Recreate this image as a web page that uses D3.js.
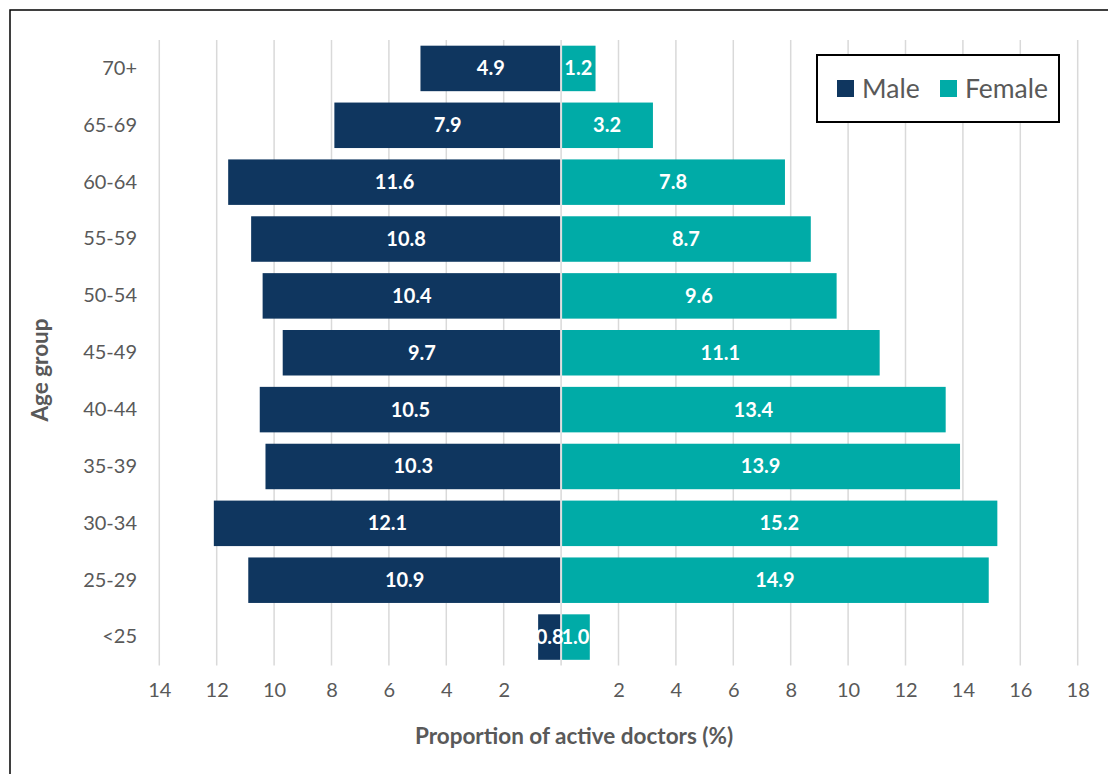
<!DOCTYPE html>
<html>
<head>
<meta charset="utf-8">
<script src="https://cdn.jsdelivr.net/npm/d3@7"></script>
<style>
  body { margin: 0; background: #fff; }
  text { font-family: Lato, "Open Sans", sans-serif; }
</style>
</head>
<body>
<svg id="chart" width="1108" height="774"></svg>
<script>
// age groups, top to bottom
var ageGroups = ['70+', '65-69', '60-64', '55-59', '50-54', '45-49', '40-44', '35-39', '30-34', '25-29', '<25'];
var maleValues = [4.9, 7.9, 11.6, 10.8, 10.4, 9.7, 10.5, 10.3, 12.1, 10.9, 0.8];
var femaleValues = [1.2, 3.2, 7.8, 8.7, 9.6, 11.1, 13.4, 13.9, 15.2, 14.9, 1.0];
var tickValues = [-14, -12, -10, -8, -6, -4, -2, 0, 2, 4, 6, 8, 10, 12, 14, 16, 18];
var seriesNames = ['Male', 'Female'];

var maleColor = '#0f365f';
var femaleColor = '#00aba7';
var textGrey = '#595959';

var svg = d3.select('#chart');

// outer frame (runs off the right and bottom)
svg.append('rect')
  .attr('x', 10).attr('y', 10)
  .attr('width', 1120).attr('height', 800)
  .attr('fill', 'none').attr('stroke', '#000').attr('stroke-width', 1.5);

var x = d3.scaleLinear().domain([-14, 18]).range([159.3, 1077.7]);
var y = d3.scaleBand().domain(ageGroups).range([40, 665.5]).paddingInner(0.2).paddingOuter(0.1);

// vertical gridlines
svg.append('g').selectAll('line')
  .data(tickValues)
  .enter().append('line')
  .attr('x1', function(d){ return x(d); })
  .attr('x2', function(d){ return x(d); })
  .attr('y1', 40).attr('y2', 665.5)
  .attr('stroke', '#d9d9d9').attr('stroke-width', 1.5);

// bars
var rows = ageGroups.map(function(g, i) {
  return {group: g, male: maleValues[i], female: femaleValues[i]};
});

var bars = svg.append('g');
bars.selectAll('rect.male')
  .data(rows)
  .enter().append('rect')
  .attr('class', 'male')
  .attr('x', function(d){ return x(-d.male); })
  .attr('width', function(d){ return x(0) - 1 - x(-d.male); })
  .attr('y', function(d){ return y(d.group); })
  .attr('height', y.bandwidth())
  .attr('fill', maleColor);

bars.selectAll('rect.female')
  .data(rows)
  .enter().append('rect')
  .attr('class', 'female')
  .attr('x', x(0) + 1)
  .attr('width', function(d){ return x(d.female) - x(0) - 1; })
  .attr('y', function(d){ return y(d.group); })
  .attr('height', y.bandwidth())
  .attr('fill', femaleColor);

// value labels
bars.selectAll('text.male')
  .data(rows)
  .enter().append('text')
  .attr('x', function(d){ return (x(-d.male) + x(0)) / 2; })
  .attr('y', function(d){ return y(d.group) + y.bandwidth() / 2; })
  .attr('dy', '.35em')
  .style('text-anchor', 'middle')
  .style('font-weight', 'bold')
  .style('font-size', '20px')
  .attr('fill', '#fff')
  .text(function(d){ return d.male.toFixed(1); });

bars.selectAll('text.female')
  .data(rows)
  .enter().append('text')
  .attr('x', function(d){ return (x(d.female) + x(0)) / 2; })
  .attr('y', function(d){ return y(d.group) + y.bandwidth() / 2; })
  .attr('dy', '.35em')
  .style('text-anchor', 'middle')
  .style('font-weight', 'bold')
  .style('font-size', '20px')
  .attr('fill', '#fff')
  .text(function(d){ return d.female.toFixed(1); });

// x axis
var xAxis = d3.axisBottom(x)
  .tickValues(tickValues.filter(function(d){ return d !== 0; }))
  .tickSize(0)
  .tickPadding(0)
  .tickFormat(function(d){ return Math.abs(d); });
var xg = svg.append('g').attr('transform', 'translate(0,683)').call(xAxis);
xg.select('.domain').remove();
xg.selectAll('text').style('font-size', '20px').attr('fill', textGrey);

// y axis
var yAxis = d3.axisLeft(y).tickSize(0).tickPadding(0);
var yg = svg.append('g').attr('transform', 'translate(137,0)').call(yAxis);
yg.select('.domain').remove();
yg.selectAll('text').style('font-size', '20px').attr('fill', textGrey);

// axis titles
svg.append('text')
  .attr('x', 574).attr('y', 744)
  .style('text-anchor', 'middle')
  .style('font-weight', 'bold')
  .style('font-size', '22.5px')
  .attr('fill', textGrey)
  .text('Proportion of active doctors (%)');

svg.append('text')
  .attr('transform', 'translate(48,370) rotate(-90)')
  .style('text-anchor', 'middle')
  .style('font-weight', 'bold')
  .style('font-size', '22.5px')
  .attr('fill', textGrey)
  .text('Age group');

// legend
var legend = svg.append('g');
legend.append('rect')
  .attr('x', 817).attr('y', 55)
  .attr('width', 242).attr('height', 67)
  .attr('fill', '#fff').attr('stroke', '#000').attr('stroke-width', 2);

var legendX = [837, 940];
var legendColors = [maleColor, femaleColor];
var items = legend.selectAll('g.item')
  .data(seriesNames)
  .enter().append('g')
  .attr('class', 'item')
  .attr('transform', function(d, i){ return 'translate(' + legendX[i] + ',80)'; });
items.append('rect')
  .attr('width', 17).attr('height', 17)
  .attr('fill', function(d, i){ return legendColors[i]; });
items.append('text')
  .attr('x', 25).attr('y', 8.5)
  .attr('dy', '.35em')
  .style('font-size', '26.5px')
  .attr('fill', textGrey)
  .text(function(d){ return d; });
</script>
</body>
</html>
